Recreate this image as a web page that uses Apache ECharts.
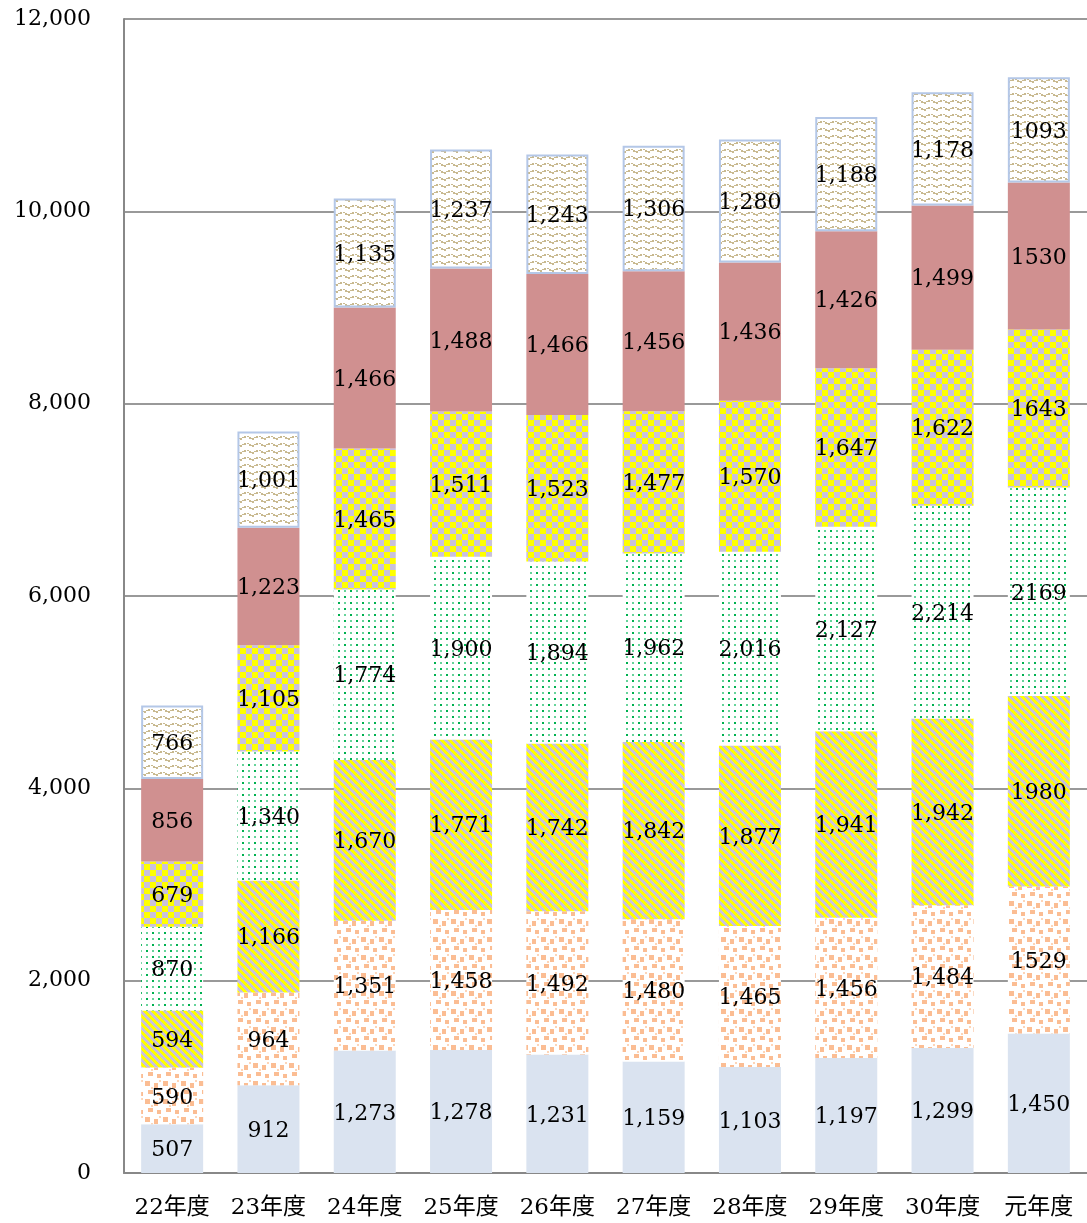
<!DOCTYPE html>
<html>
<head>
<meta charset="utf-8">
<script src="https://cdn.jsdelivr.net/npm/echarts@6/dist/echarts.min.js"></script>
<style>
  html, body { margin: 0; padding: 0; background: #fff; }
  #main { width: 1087px; height: 1223px; }
</style>
</head>
<body>
<div id="main"></div>
<script>
var categories = ['22年度', '23年度', '24年度', '25年度', '26年度', '27年度', '28年度', '29年度', '30年度', '元年度'];
var yTicks = [0, 2000, 4000, 6000, 8000, 10000, 12000];

var s1 = [507, 912, 1273, 1278, 1231, 1159, 1103, 1197, 1299, 1450];
var s2 = [590, 964, 1351, 1458, 1492, 1480, 1465, 1456, 1484, 1529];
var s3 = [594, 1166, 1670, 1771, 1742, 1842, 1877, 1941, 1942, 1980];
var s4 = [870, 1340, 1774, 1900, 1894, 1962, 2016, 2127, 2214, 2169];
var s5 = [679, 1105, 1465, 1511, 1523, 1477, 1570, 1647, 1622, 1643];
var s6 = [856, 1223, 1466, 1488, 1466, 1456, 1436, 1426, 1499, 1530];
var s7 = [766, 1001, 1135, 1237, 1243, 1306, 1280, 1188, 1178, 1093];

// ---- パターン ----
function tile(w, h, draw) {
    var c = document.createElement('canvas');
    c.width = w; c.height = h;
    var ctx = c.getContext('2d');
    draw(ctx);
    return { image: c, repeat: 'repeat' };
}

var dotsOrange = tile(18, 18, function(ctx) {
    ctx.fillStyle = '#fff'; ctx.fillRect(0, 0, 18, 18);
    ctx.fillStyle = '#fbbd93';
    ctx.fillRect(1, 1, 5, 5);
    ctx.fillRect(10, 3, 4, 5);
    ctx.fillRect(4, 10, 5, 4);
    ctx.fillRect(13, 12, 4, 4);
    ctx.fillStyle = '#fdd5b8';
    ctx.fillRect(7, 7, 2, 2);
    ctx.fillRect(15, 0, 2, 2);
});

var diagYellow = tile(8, 8, function(ctx) {
    ctx.fillStyle = '#ffff00'; ctx.fillRect(0, 0, 8, 8);
    ctx.fillStyle = '#c9c1dc';
    for (var y = 0; y < 8; y++) {
        for (var x = 0; x < 8; x++) {
            if (((x - y + 16) % 8) < 4) ctx.fillRect(x, y, 1, 1);
        }
    }
});

var dotsGreen = tile(12, 12, function(ctx) {
    ctx.fillStyle = '#fff'; ctx.fillRect(0, 0, 12, 12);
    ctx.fillStyle = '#00b050';
    ctx.fillRect(2, 2, 2, 2);
    ctx.fillRect(8, 8, 2, 2);
    ctx.fillStyle = '#66d39a';
    ctx.fillRect(8, 2, 2, 2);
    ctx.fillRect(2, 8, 2, 2);
});

var checker = tile(12, 12, function(ctx) {
    ctx.fillStyle = '#ffff00'; ctx.fillRect(0, 0, 12, 12);
    ctx.fillStyle = '#c9c1dc';
    ctx.fillRect(6, 0, 6, 6);
    ctx.fillRect(0, 6, 6, 6);
});

var wavy = tile(12, 7, function(ctx) {
    ctx.fillStyle = '#fff'; ctx.fillRect(0, 0, 12, 7);
    ctx.fillStyle = '#c8b98f';
    ctx.fillRect(0, 4, 2, 2);
    ctx.fillRect(2, 3, 2, 1);
    ctx.fillRect(4, 2, 2, 2);
    ctx.fillRect(7, 2, 2, 1);
    ctx.fillRect(9, 3, 2, 2);
    ctx.fillRect(11, 4, 1, 1);
});

var labelFont = '"DejaVu Serif", "Liberation Serif", "Noto Sans CJK JP", serif';

function fmt(p) {
    // 元年度の上側の値はカンマなし
    if (p.dataIndex === categories.length - 1 && p.seriesIndex > 0) return String(p.value);
    return p.value.toLocaleString('en-US');
}

function makeSeries(name, data, color, extra) {
    var s = {
        name: name,
        type: 'bar',
        stack: 'total',
        barWidth: 62,
        data: data,
        itemStyle: { color: color },
        label: {
            show: true,
            position: 'inside',
            offset: [0, 2],
            formatter: fmt,
            color: '#000',
            fontSize: 22,
            fontFamily: labelFont
        },
        emphasis: { disabled: true }
    };
    if (extra) s.itemStyle = Object.assign(s.itemStyle, extra);
    return s;
}

var option = {
    animation: false,
    backgroundColor: '#fff',
    grid: { left: 124, right: 0, top: 19, bottom: 50 },
    xAxis: {
        type: 'category',
        data: categories,
        axisLine: { lineStyle: { color: '#888', width: 2 } },
        axisTick: { show: false },
        axisLabel: {
            interval: 0,
            color: '#000',
            fontSize: 23,
            fontFamily: labelFont,
            margin: 24
        }
    },
    yAxis: {
        type: 'value',
        min: yTicks[0],
        max: yTicks[yTicks.length - 1],
        interval: 2000,
        axisLine: { show: true, lineStyle: { color: '#888', width: 2 } },
        axisTick: { show: false },
        axisLabel: {
            color: '#000',
            fontSize: 22,
            fontFamily: labelFont,
            margin: 33,
            formatter: function(v) { return v.toLocaleString('en-US'); }
        },
        splitLine: { lineStyle: { color: '#999', width: 2 } }
    },
    series: [
        makeSeries('s1', s1, '#dae3f0'),
        makeSeries('s2', s2, dotsOrange),
        makeSeries('s3', s3, diagYellow),
        makeSeries('s4', s4, dotsGreen),
        makeSeries('s5', s5, checker),
        makeSeries('s6', s6, '#d09090'),
        makeSeries('s7', s7, wavy, { borderColor: '#b4c7e7', borderWidth: 2 })
    ]
};

var myChart = echarts.init(document.getElementById('main'));
myChart.setOption(option);
</script>
</body>
</html>
